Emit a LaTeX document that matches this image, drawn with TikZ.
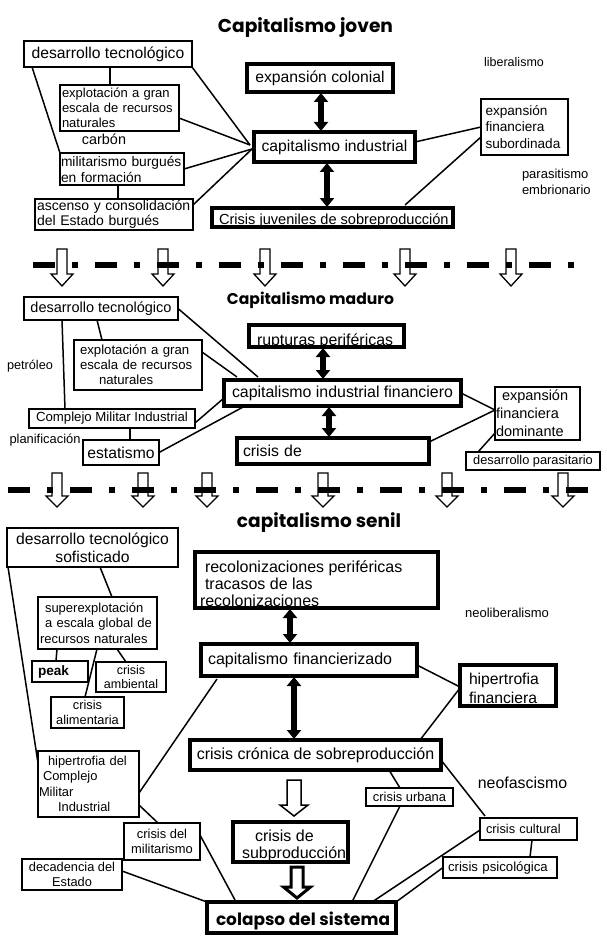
\documentclass[tikz,border=0pt]{standalone}
\usepackage{fontspec}
\usepackage{graphicx}
\setmainfont{Liberation Sans}
\newfontfamily\titlefont{Poppins}
\usetikzlibrary{arrows.meta}
\newcommand\fsz[2]{\fontsize{#1}{#2}\selectfont}
\newcommand\hollowarr[7]{\draw[line width=#7pt, fill=white, line join=miter] ({#1-#5},#2) -- ({#1+#5},#2) -- ({#1+#5},#3) -- ({#1+#6},#3) -- (#1,#4) -- ({#1-#6},#3) -- ({#1-#5},#3) -- cycle;}
\tikzset{
 tb/.style={draw, line width=1.2pt, inner sep=0pt, outer sep=0pt},
 mb/.style={draw, line width=2pt, inner sep=0pt, outer sep=0pt},
 kb/.style={draw, line width=3.5pt, inner sep=0pt, outer sep=0pt},
 txt/.style={inner sep=0pt, outer sep=0pt},
 ln/.style={line width=1.5pt},
 dbl/.style={line width=5.5pt, {Triangle[width=14pt,length=9pt]}-{Triangle[width=14pt,length=9pt]}, shorten <=1pt, shorten >=1pt},
 sepline/.style={line width=6pt, dash pattern=on 22pt off 17pt on 6pt off 17pt},
 ttl/.style={inner sep=0pt, outer sep=0pt, anchor=base},
}
\begin{document}
\begin{tikzpicture}[x=1pt,y=-1pt]
\fill[white] (0,0) rectangle (606,944);
\useasboundingbox (0,0) rectangle (606,944);

% ---------- Section 1 ----------
\node[ttl] (t1) at (305.5,33) {\resizebox{175pt}{!}{\titlefont\bfseries Capitalismo joven}};
\node[tb, minimum width=168pt, minimum height=26pt, font=\fsz{15.7}{18}] (d1) at (108,54) {desarrollo tecnológico};
\node[tb, minimum width=119pt, minimum height=46pt, text width=115pt, inner xsep=2pt, align=left, font=\fsz{13}{15}] (e1) at (119.5,108) {explotación a gran\\escala de recursos\\naturales};
\node[txt, font=\fsz{14.4}{16}] (carb) at (104,139) {carbón};
\node[tb, minimum width=124pt, minimum height=32pt, text width=122pt, inner xsep=1pt, align=left, font=\fsz{13.8}{16}] (m1) at (122,169) {militarismo burgués\\en formación};
\node[tb, minimum width=158pt, minimum height=31pt, text width=154pt, inner xsep=2pt, align=left, font=\fsz{14}{15}] (a1) at (114,214.5) {ascenso y consolidación\\del Estado burgués};
\node[kb, minimum width=146pt, minimum height=28pt, font=\fsz{15.7}{18}] (ec) at (320,78) {expansión colonial};
\node[kb, minimum width=161pt, minimum height=30pt, font=\fsz{15.7}{18}] (ci) at (334.5,147) {capitalismo industrial};
\node[kb, minimum width=241pt, minimum height=19pt] (cj) at (332.5,217.5) {};
\begin{scope}
\clip (cj.south west) rectangle (cj.north east);
\node[txt, anchor=base west, font=\fsz{14.6}{16}] (cjt) at (219,224.5) {Crisis juveniles de sobreproducción};
\end{scope}
\draw[line width=3.5pt] (cj.south west) rectangle (cj.north east);
\node[txt, font=\fsz{12.5}{14}] (lib) at (514,62) {liberalismo};
\node[mb, minimum width=87pt, minimum height=56pt, text width=78pt, inner xsep=4.5pt, align=left, font=\fsz{13.6}{16.5}] (ef) at (524.5,127) {expansión\\financiera\\subordinada};
\node[txt, anchor=west, align=left, font=\fsz{13}{16}] (par) at (522,182) {parasitismo\\embrionario};

\coordinate (h1) at (250,145);
\coordinate (h1b) at (252,149);
\draw[ln] ([xshift=8pt]d1.south west) -- (m1.north west);
\draw[ln] ([xshift=2pt]d1.south) -- ([xshift=2pt]d1.south |- e1.north);
\draw[ln] (d1.south east) -- (h1);
\draw[ln] ([yshift=-10pt]e1.east) -- (h1);
\draw[ln] (m1.east) -- (h1b);
\draw[ln] ([xshift=-4pt]m1.south) -- ([xshift=-4pt]m1.south |- a1.north);
\draw[ln] ([yshift=-6pt]a1.north east) -- (h1b);
\draw[ln] ([yshift=5pt]ci.east) -- (ef.west);
\draw[ln] ([xshift=72.5pt,yshift=3pt]cj.north) -- ([yshift=-10pt]ef.west);
\draw[dbl] ([xshift=1pt]ec.south) -- ([xshift=1pt]ec.south |- ci.north);
\draw[dbl] ([xshift=-7.5pt]ci.south) -- ([xshift=-7.5pt]ci.south |- cj.north);

% separator 1
\foreach \x in {62,163,265,405,511} {\hollowarr{\x}{249}{274}{286}{5}{11}{1.3}}
\coordinate (s1a) at (33,265);
\coordinate (s1b) at (578,265);
\draw[sepline] (s1a) -- (s1b);

% ---------- Section 2 ----------
\node[ttl] (t2) at (310.5,304) {\resizebox{167pt}{!}{\titlefont\bfseries Capitalismo maduro}};
\node[tb, minimum width=154pt, minimum height=23pt, font=\fsz{14.5}{17}] (d2) at (101,308.5) {desarrollo tecnológico};
\node[tb, minimum width=128pt, minimum height=50pt, text width=116pt, inner xsep=6pt, align=left, font=\fsz{13.2}{15}] (e2) at (138,365) {explotación a gran\\escala de recursos\\\hspace*{19pt}naturales};
\node[txt, font=\fsz{12.7}{14}] (pet) at (30,366) {petróleo};
\node[tb, minimum width=166pt, minimum height=19pt, font=\fsz{13.2}{15}] (cmi) at (112,418.5) {Complejo Militar Industrial};
\node[txt, font=\fsz{12.9}{14}] (plan) at (45,440) {planificación};
\node[tb, minimum width=76pt, minimum height=25pt, font=\fsz{15.7}{18}] (es) at (121,452.5) {estatismo};
\node[kb, minimum width=155pt, minimum height=22pt] (rp) at (326.5,336) {};
\begin{scope}
\clip (rp.south west) rectangle (rp.north east);
\node[txt, anchor=base west, font=\fsz{15.9}{18}] (rpt) at (257,345.5) {rupturas periféricas};
\end{scope}
\draw[line width=3.5pt] (rp.south west) rectangle (rp.north east);
\node[kb, minimum width=237pt, minimum height=26pt, font=\fsz{15.9}{18}] (cif) at (342.5,393) {capitalismo industrial financiero};
\node[kb, minimum width=192pt, minimum height=26pt, text width=180pt, inner xsep=6pt, align=left, font=\fsz{15.8}{18}] (cd) at (333,451) {crisis de};
\node[tb, line width=1.5pt, minimum width=85pt, minimum height=53pt, text width=83pt, inner xsep=1pt, align=left, font=\fsz{14.5}{18}] (efd) at (537.5,413.5) {\hspace*{6pt}expansión\\financiera\\dominante};
\node[tb, minimum width=134pt, minimum height=18pt, font=\fsz{12.8}{14}] (dp) at (533,461) {desarrollo parasitario};

\coordinate (h2a) at (258,377);
\coordinate (h2b) at (237,377);
\draw[ln] ([xshift=-39pt]d2.south) -- ([xshift=-47pt]cmi.north);
\draw[ln] ([xshift=-4pt]d2.south) -- ([xshift=-36pt]e2.north);
\draw[ln] (d2.east) -- (h2a);
\draw[ln] ([yshift=13pt]e2.east) -- (h2b);
\draw[ln] ([yshift=-4.5pt]cmi.east) -- ([yshift=-5pt]cif.west);
\draw[ln] (es.east) -- ([xshift=-97.5pt]cif.south);
\draw[ln] ([xshift=9pt]es.north) -- ([xshift=9pt]es.north |- cmi.south);
\draw[ln] (cif.east) -- ([yshift=3.5pt]efd.west);
\draw[ln] ([yshift=-4pt]cd.north east) -- ([yshift=3.5pt]efd.west);
\draw[ln] ([xshift=12pt]dp.north west) -- ([yshift=-19.5pt]efd.west);
\draw[dbl] ([xshift=-3.5pt]rp.south) -- ([xshift=-3.5pt]rp.south |- cif.north);
\draw[dbl] ([xshift=-13.5pt]cif.south) -- ([xshift=-13.5pt]cif.south |- cd.north);

% separator 2
\foreach \x in {57,143,207,323,447,563} {\hollowarr{\x}{473}{496}{507}{5}{11}{1.3}}
\coordinate (s2a) at (8,490);
\coordinate (s2b) at (592,490);
\draw[sepline] (s2a) -- (s2b);

% ---------- Section 3 ----------
\node[ttl] (t3) at (319,527) {\resizebox{164pt}{!}{\titlefont\bfseries capitalismo senil}};
\node[tb, minimum width=171pt, minimum height=39pt, align=center, font=\fsz{15.7}{18}] (d3) at (92.5,547.5) {desarrollo tecnológico\\sofisticado};
\node[tb, minimum width=119pt, minimum height=52pt, text width=115pt, inner xsep=2pt, align=left, font=\fsz{13}{15.5}] (se) at (97.5,623) {\hspace*{5pt}superexplotación\\\hspace*{5pt}a escala global de\\recursos naturales};
\node[tb, minimum width=56pt, minimum height=21pt, text width=44pt, inner xsep=6pt, align=left, font=\fsz{13.6}{15}\bfseries] (pk) at (60,671.5) {peak};
\node[tb, minimum width=70pt, minimum height=30pt, align=center, font=\fsz{12.5}{14}] (ca) at (131,677) {crisis\\ambiental};
\node[tb, minimum width=73pt, minimum height=31pt, align=center, font=\fsz{12.8}{15}] (cal) at (87.5,712.5) {crisis\\alimentaria};
\node[kb, minimum width=243pt, minimum height=56pt] (rc) at (316.5,580) {};
\begin{scope}
\clip (rc.south west) rectangle (rc.north east);
\node[txt, anchor=base west, font=\fsz{16}{18}] (rc1) at (205,572) {recolonizaciones periféricas};
\node[txt, anchor=base west, font=\fsz{16}{18}] (rc2) at (205,589) {tracasos de las};
\node[txt, anchor=base west, font=\fsz{16}{18}] (rc3) at (200,606) {recolonizaciones};
\end{scope}
\draw[line width=3.5pt] (rc.south west) rectangle (rc.north east);
\node[kb, minimum width=216pt, minimum height=32pt, text width=202pt, inner xsep=7pt, align=left, font=\fsz{16}{18}] (cfz) at (309,660) {capitalismo financierizado};
\node[kb, minimum width=96pt, minimum height=41pt] (hf) at (508,685.5) {};
\begin{scope}
\clip (hf.south west) rectangle (hf.north east);
\node[txt, anchor=base west, font=\fsz{15.7}{18}] (hf1) at (469,684.5) {hipertrofia};
\node[txt, anchor=base west, font=\fsz{15.7}{18}] (hf2) at (469,703.5) {financiera};
\end{scope}
\draw[line width=3.5pt] (hf.south west) rectangle (hf.north east);
\node[txt, font=\fsz{13}{15}] (neol) at (507,613) {neoliberalismo};
\node[kb, minimum width=251pt, minimum height=30pt, font=\fsz{16}{18}] (ccs) at (315.5,755) {crisis crónica de sobreproducción};
\node[kb, minimum width=115pt, minimum height=40pt] (csp) at (290.5,842) {};
\begin{scope}
\clip (csp.south west) rectangle (csp.north east);
\node[txt, anchor=base west, font=\fsz{16}{18}] (csp1) at (255,841) {crisis de};
\node[txt, anchor=base west, font=\fsz{16}{18}] (csp2) at (242,858.5) {subproducción};
\end{scope}
\draw[line width=3.5pt] (csp.south west) rectangle (csp.north east);
\node[kb, minimum width=189pt, minimum height=31pt] (col) at (301.5,917.5) {};
\node[ttl] (colt) at (303,925) {\resizebox{174pt}{!}{\titlefont\bfseries colapso del sistema}};
\node[tb, minimum width=87pt, minimum height=18pt, font=\fsz{12.9}{14}] (cu) at (409.5,797) {crisis urbana};
\node[txt, font=\fsz{15.9}{18}] (neof) at (522.5,783) {neofascismo};
\node[tb, minimum width=97pt, minimum height=22pt, text width=85pt, inner xsep=6pt, align=left, font=\fsz{12.8}{14}] (cc) at (528.5,829) {crisis cultural};
\node[tb, minimum width=114pt, minimum height=21pt, text width=104pt, inner xsep=5pt, align=left, font=\fsz{13.2}{15}] (cps) at (500,867.5) {crisis psicológica};
\node[tb, minimum width=101pt, minimum height=66pt, text width=99pt, inner xsep=1pt, align=left, font=\fsz{12.9}{15.5}] (hcm) at (88.5,784) {\hspace*{9pt}hipertrofia del\\\hspace*{4pt}Complejo\\Militar\\\hspace*{19pt}Industrial};
\node[tb, minimum width=76pt, minimum height=37pt, align=center, font=\fsz{12.9}{15}] (cdm) at (162,841.5) {crisis del\\militarismo};
\node[tb, minimum width=100pt, minimum height=31pt, align=center, font=\fsz{12.8}{15}] (dde) at (72,874.5) {decadencia del\\Estado};

\draw[ln] ([xshift=1pt]d3.south west) -- ([yshift=-12pt]hcm.north west);
\draw[ln] ([xshift=7.5pt]d3.south) -- ([xshift=14.5pt]se.north);
\draw[ln] ([xshift=-40.5pt]se.south) -- ([xshift=-4pt]pk.north);
\draw[ln] ([xshift=-0.5pt]se.south) -- ([xshift=-2.5pt]cal.north);
\draw[ln] ([xshift=19.5pt]se.south) -- ([xshift=-5pt]ca.north);
\draw[ln] ([xshift=16pt,yshift=-3pt]cfz.south west) -- ([yshift=-9pt]hcm.east);
\draw[ln] ([yshift=-21pt]hcm.east) -- ([xshift=-4pt]cdm.north);
\draw[ln] ([yshift=6.5pt]cdm.east) -- ([xshift=28pt,yshift=2pt]col.north west);
\draw[ln] ([yshift=3.5pt]dde.east) -- (col.north west);
\draw[dbl] ([xshift=-26.5pt]rc.south) -- ([xshift=-26.5pt]rc.south |- cfz.north);
\draw[dbl] ([xshift=-15pt]cfz.south) -- ([xshift=-15pt]cfz.south |- ccs.north);
\draw[ln] ([yshift=-5pt]cfz.east) -- ([yshift=-1.5pt]hf.west);
\draw[ln] ([yshift=-2.5pt]hf.west) -- ([xshift=-21pt]ccs.north east);
\draw[ln] ([xshift=73.5pt]ccs.south) -- ([xshift=-9.5pt]cu.north);
\draw[ln] ([xshift=-9.5pt]cu.south) -- ([xshift=50.5pt]col.north);
\draw[ln] ([yshift=-5pt]ccs.east) -- ([xshift=-43.5pt,yshift=2pt]cc.north);
\draw[ln] ([xshift=3.5pt]cc.south) -- ([xshift=30pt]cps.north);
\draw[ln] ([yshift=-1pt]cc.west) -- ([xshift=70.5pt]col.north);
\draw[ln] (cps.west) -- (col.north east);
\hollowarr{294}{780}{805}{816}{7}{14}{1.5}
\hollowarr{297}{867}{887}{898}{6}{13.5}{3}
\end{tikzpicture}
\end{document}
